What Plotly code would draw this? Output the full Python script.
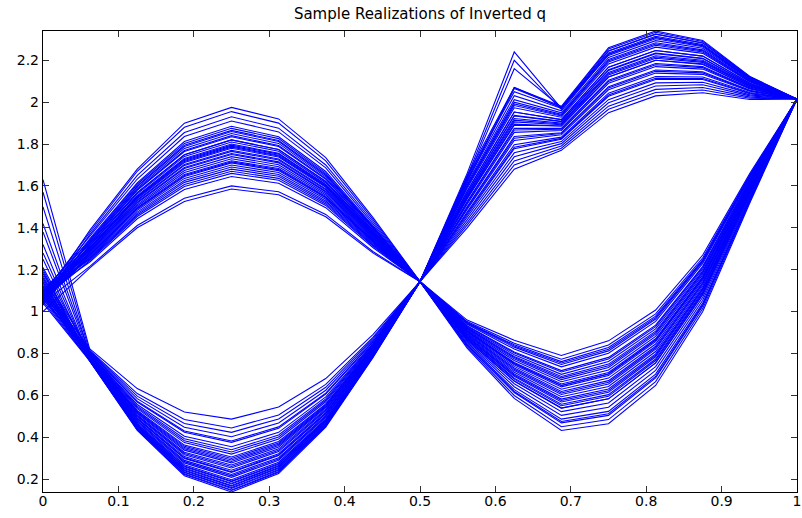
import plotly.graph_objects as go

# Grid of x positions (17 nodes on [0, 1])
x_nodes = [0, 0.0625, 0.125, 0.1875, 0.25, 0.3125, 0.375, 0.4375, 0.5,
           0.5625, 0.625, 0.6875, 0.75, 0.8125, 0.875, 0.9375, 1]

# Upper branch realizations: rising hump on [0, 0.5], higher hump on [0.5, 1]
upper_q = [
    [1.06, 1.39, 1.68, 1.90, 1.975, 1.92, 1.735, 1.45, 1.143, 1.54, 1.89, 1.886, 2.12, 2.20, 2.18, 2.073, 2.015],
    [1.08, 1.38, 1.67, 1.88, 1.955, 1.90, 1.72, 1.44, 1.143, 1.66, 2.24, 1.97, 2.245, 2.325, 2.283, 2.118, 2.015],
    [1.05, 1.37, 1.65, 1.855, 1.93, 1.876, 1.70, 1.43, 1.143, 1.475, 1.797, 1.833, 2.043, 2.123, 2.12, 2.046, 2.015],
    [1.09, 1.36, 1.633, 1.836, 1.91, 1.858, 1.686, 1.42, 1.143, 1.65, 2.07, 1.98, 2.26, 2.34, 2.295, 2.123, 2.015],
    [1.07, 1.35, 1.615, 1.812, 1.885, 1.835, 1.669, 1.41, 1.143, 1.575, 1.953, 1.917, 2.167, 2.247, 2.22, 2.09, 2.015],
    [1.04, 1.345, 1.608, 1.803, 1.875, 1.826, 1.661, 1.406, 1.143, 1.438, 1.739, 1.802, 1.997, 2.077, 2.083, 2.03, 2.015],
    [1.10, 1.34, 1.60, 1.794, 1.865, 1.817, 1.655, 1.402, 1.143, 1.613, 2.012, 1.949, 2.214, 2.294, 2.258, 2.107, 2.015],
    [1.06, 1.332, 1.59, 1.779, 1.85, 1.803, 1.643, 1.396, 1.143, 1.513, 1.856, 1.865, 2.09, 2.17, 2.158, 2.063, 2.015],
    [1.08, 1.328, 1.583, 1.769, 1.84, 1.793, 1.636, 1.391, 1.143, 1.645, 2.20, 1.965, 2.229, 2.309, 2.27, 2.11, 2.015],
    [1.03, 1.318, 1.568, 1.749, 1.82, 1.774, 1.621, 1.382, 1.143, 1.413, 1.70, 1.78, 1.966, 2.046, 2.058, 2.019, 2.015],
    [1.07, 1.309, 1.554, 1.731, 1.80, 1.756, 1.607, 1.374, 1.143, 1.555, 1.922, 1.90, 2.142, 2.222, 2.20, 2.081, 2.015],
    [1.09, 1.305, 1.547, 1.722, 1.79, 1.747, 1.60, 1.369, 1.143, 1.595, 1.984, 1.934, 2.192, 2.272, 2.24, 2.099, 2.015],
    [1.05, 1.30, 1.54, 1.712, 1.78, 1.738, 1.593, 1.365, 1.143, 1.488, 1.817, 1.844, 2.059, 2.139, 2.133, 2.052, 2.015],
    [1.08, 1.295, 1.533, 1.702, 1.77, 1.729, 1.586, 1.361, 1.143, 1.635, 2.16, 1.975, 2.254, 2.334, 2.29, 2.121, 2.015],
    [1.06, 1.288, 1.522, 1.688, 1.755, 1.715, 1.575, 1.354, 1.143, 1.525, 1.875, 1.875, 2.105, 2.185, 2.17, 2.068, 2.015],
    [1.04, 1.281, 1.511, 1.674, 1.74, 1.701, 1.564, 1.347, 1.143, 1.45, 1.758, 1.812, 2.012, 2.092, 2.095, 2.035, 2.015],
    [1.09, 1.272, 1.497, 1.655, 1.72, 1.683, 1.55, 1.339, 1.143, 1.62, 2.065, 1.975, 2.223, 2.303, 2.265, 2.11, 2.015],
    [1.07, 1.268, 1.49, 1.645, 1.71, 1.673, 1.543, 1.334, 1.143, 1.565, 1.937, 1.909, 2.155, 2.235, 2.21, 2.086, 2.015],
    [1.05, 1.263, 1.483, 1.636, 1.70, 1.664, 1.536, 1.33, 1.143, 1.50, 1.836, 1.854, 2.074, 2.154, 2.145, 2.057, 2.015],
    [1.10, 1.254, 1.468, 1.617, 1.68, 1.646, 1.521, 1.321, 1.143, 1.40, 1.68, 1.77, 1.95, 2.03, 2.045, 2.013, 2.015],
    [1.06, 1.245, 1.454, 1.597, 1.66, 1.627, 1.507, 1.313, 1.143, 1.588, 1.973, 1.928, 2.183, 2.263, 2.233, 2.096, 2.015],
    [1.08, 1.238, 1.443, 1.583, 1.645, 1.613, 1.496, 1.306, 1.143, 1.545, 1.906, 1.892, 2.13, 2.21, 2.19, 2.077, 2.015],
    [1.04, 1.217, 1.411, 1.541, 1.60, 1.572, 1.464, 1.287, 1.143, 1.468, 1.785, 1.827, 2.034, 2.114, 2.113, 2.043, 2.015],
    [1.00, 1.21, 1.40, 1.526, 1.585, 1.558, 1.453, 1.28, 1.143, 1.63, 2.07, 1.973, 2.235, 2.315, 2.275, 2.114, 2.015],
    [1.05, 1.337, 1.597, 1.788, 1.86, 1.812, 1.65, 1.40, 1.143, 1.55, 1.914, 1.896, 2.136, 2.216, 2.195, 2.079, 2.015],
    [1.09, 1.325, 1.579, 1.764, 1.835, 1.788, 1.632, 1.389, 1.143, 1.605, 2.00, 1.942, 2.204, 2.284, 2.25, 2.103, 2.015],
    [1.07, 1.314, 1.562, 1.741, 1.81, 1.766, 1.614, 1.378, 1.143, 1.64, 2.05, 1.97, 2.245, 2.325, 2.283, 2.118, 2.015],
    [1.04, 1.302, 1.544, 1.717, 1.785, 1.743, 1.597, 1.367, 1.143, 1.52, 1.867, 1.871, 2.099, 2.179, 2.165, 2.066, 2.015],
    [1.08, 1.293, 1.529, 1.698, 1.765, 1.724, 1.582, 1.358, 1.143, 1.575, 1.953, 1.917, 2.167, 2.247, 2.22, 2.09, 2.015],
    [1.06, 1.286, 1.518, 1.683, 1.75, 1.71, 1.571, 1.352, 1.143, 1.463, 1.778, 1.823, 2.028, 2.108, 2.108, 2.04, 2.015],
    [1.10, 1.277, 1.504, 1.664, 1.73, 1.692, 1.557, 1.343, 1.143, 1.625, 2.031, 1.959, 2.229, 2.309, 2.27, 2.11, 2.015],
    [1.05, 1.27, 1.493, 1.65, 1.715, 1.678, 1.546, 1.337, 1.143, 1.538, 1.895, 1.886, 2.12, 2.20, 2.183, 2.073, 2.015],
    [1.07, 1.258, 1.475, 1.626, 1.69, 1.655, 1.528, 1.326, 1.143, 1.60, 1.992, 1.938, 2.198, 2.278, 2.245, 2.101, 2.015],
    [1.09, 1.25, 1.461, 1.607, 1.67, 1.636, 1.514, 1.317, 1.143, 1.495, 1.828, 1.85, 2.068, 2.148, 2.14, 2.055, 2.015],
    [1.06, 1.318, 1.568, 1.749, 1.82, 1.774, 1.621, 1.382, 1.143, 1.563, 1.934, 1.907, 2.152, 2.232, 2.208, 2.085, 2.015],
    [1.08, 1.307, 1.55, 1.726, 1.795, 1.752, 1.604, 1.371, 1.143, 1.425, 1.719, 1.791, 1.981, 2.061, 2.07, 2.024, 2.015],
]

# Lower branch realizations: dip on [0, 0.5], second dip on [0.5, 1]
lower_q = [
    [1.12, 0.82, 0.632, 0.52, 0.486, 0.544, 0.68, 0.89, 1.143, 0.905, 0.752, 0.647, 0.702, 0.863, 1.162, 1.604, 2.015],
    [1.63, 0.813, 0.608, 0.484, 0.444, 0.506, 0.652, 0.877, 1.143, 0.845, 0.627, 0.486, 0.523, 0.701, 1.04, 1.541, 2.015],
    [1.08, 0.809, 0.596, 0.465, 0.423, 0.487, 0.638, 0.87, 1.143, 0.939, 0.821, 0.736, 0.801, 0.953, 1.23, 1.639, 2.015],
    [1.18, 0.806, 0.584, 0.447, 0.402, 0.468, 0.624, 0.864, 1.143, 0.879, 0.696, 0.575, 0.622, 0.791, 1.108, 1.576, 2.015],
    [1.57, 0.801, 0.568, 0.423, 0.375, 0.442, 0.606, 0.855, 1.143, 0.959, 0.863, 0.79, 0.86, 1.007, 1.27, 1.66, 2.015],
    [1.10, 0.797, 0.556, 0.404, 0.354, 0.423, 0.592, 0.848, 1.143, 0.832, 0.599, 0.45, 0.484, 0.665, 1.014, 1.527, 2.015],
    [1.21, 0.795, 0.548, 0.392, 0.34, 0.41, 0.583, 0.844, 1.143, 0.919, 0.78, 0.683, 0.741, 0.899, 1.189, 1.618, 2.015],
    [1.06, 0.791, 0.536, 0.374, 0.319, 0.391, 0.569, 0.837, 1.143, 0.865, 0.668, 0.539, 0.583, 0.755, 1.081, 1.562, 2.015],
    [1.50, 0.789, 0.528, 0.362, 0.305, 0.379, 0.559, 0.833, 1.143, 0.948, 0.841, 0.761, 0.828, 0.978, 1.248, 1.649, 2.015],
    [1.14, 0.786, 0.52, 0.35, 0.291, 0.366, 0.55, 0.828, 1.143, 0.892, 0.724, 0.611, 0.662, 0.827, 1.135, 1.59, 2.015],
    [1.09, 0.784, 0.512, 0.338, 0.277, 0.353, 0.541, 0.824, 1.143, 0.852, 0.641, 0.504, 0.543, 0.719, 1.054, 1.548, 2.015],
    [1.38, 0.782, 0.506, 0.328, 0.267, 0.344, 0.534, 0.821, 1.143, 0.93, 0.802, 0.711, 0.773, 0.928, 1.211, 1.629, 2.015],
    [1.16, 0.78, 0.498, 0.316, 0.253, 0.331, 0.525, 0.816, 1.143, 0.885, 0.71, 0.593, 0.642, 0.809, 1.122, 1.583, 2.015],
    [1.11, 0.778, 0.492, 0.307, 0.242, 0.321, 0.518, 0.813, 1.143, 0.825, 0.585, 0.432, 0.464, 0.647, 1.0, 1.52, 2.015],
    [1.32, 0.776, 0.486, 0.298, 0.232, 0.312, 0.511, 0.81, 1.143, 0.912, 0.766, 0.665, 0.721, 0.881, 1.176, 1.611, 2.015],
    [1.07, 0.774, 0.48, 0.289, 0.222, 0.302, 0.504, 0.806, 1.143, 0.872, 0.682, 0.557, 0.603, 0.773, 1.095, 1.569, 2.015],
    [1.13, 0.772, 0.472, 0.277, 0.208, 0.29, 0.494, 0.802, 1.143, 0.943, 0.83, 0.747, 0.812, 0.964, 1.238, 1.643, 2.015],
    [1.25, 0.77, 0.466, 0.268, 0.197, 0.28, 0.487, 0.799, 1.143, 0.899, 0.738, 0.629, 0.682, 0.845, 1.149, 1.597, 2.015],
    [1.10, 0.768, 0.46, 0.259, 0.187, 0.271, 0.48, 0.795, 1.143, 0.838, 0.613, 0.468, 0.504, 0.683, 1.027, 1.534, 2.015],
    [1.19, 0.767, 0.454, 0.249, 0.176, 0.261, 0.474, 0.792, 1.143, 0.921, 0.785, 0.69, 0.749, 0.906, 1.194, 1.621, 2.015],
    [1.05, 0.765, 0.448, 0.24, 0.166, 0.251, 0.467, 0.789, 1.143, 0.859, 0.655, 0.522, 0.563, 0.737, 1.068, 1.555, 2.015],
    [1.15, 0.763, 0.442, 0.231, 0.155, 0.242, 0.46, 0.786, 1.143, 0.952, 0.849, 0.772, 0.84, 0.989, 1.257, 1.653, 2.015],
    [1.12, 0.761, 0.436, 0.222, 0.145, 0.232, 0.453, 0.782, 1.143, 0.881, 0.702, 0.582, 0.63, 0.798, 1.113, 1.579, 2.015],
    [1.08, 0.76, 0.432, 0.216, 0.138, 0.226, 0.448, 0.78, 1.143, 0.908, 0.757, 0.654, 0.709, 0.87, 1.167, 1.607, 2.015],
    [1.11, 0.802, 0.572, 0.429, 0.382, 0.449, 0.61, 0.857, 1.143, 0.903, 0.746, 0.64, 0.694, 0.856, 1.157, 1.601, 2.015],
    [1.42, 0.793, 0.542, 0.383, 0.329, 0.401, 0.576, 0.841, 1.143, 0.932, 0.807, 0.718, 0.781, 0.935, 1.216, 1.632, 2.015],
    [1.07, 0.788, 0.524, 0.356, 0.298, 0.372, 0.555, 0.831, 1.143, 0.869, 0.677, 0.55, 0.595, 0.766, 1.089, 1.566, 2.015],
    [1.17, 0.781, 0.502, 0.322, 0.26, 0.337, 0.529, 0.819, 1.143, 0.916, 0.774, 0.675, 0.733, 0.892, 1.184, 1.615, 2.015],
    [1.28, 0.777, 0.488, 0.301, 0.235, 0.315, 0.513, 0.811, 1.143, 0.889, 0.718, 0.604, 0.654, 0.82, 1.13, 1.587, 2.015],
    [1.09, 0.773, 0.476, 0.283, 0.215, 0.296, 0.499, 0.804, 1.143, 0.946, 0.835, 0.754, 0.82, 0.971, 1.243, 1.646, 2.015],
    [1.14, 0.769, 0.462, 0.262, 0.19, 0.274, 0.483, 0.797, 1.143, 0.876, 0.691, 0.568, 0.614, 0.784, 1.103, 1.573, 2.015],
    [1.06, 0.767, 0.456, 0.252, 0.18, 0.264, 0.476, 0.793, 1.143, 0.925, 0.794, 0.70, 0.761, 0.917, 1.203, 1.625, 2.015],
    [1.20, 0.765, 0.45, 0.243, 0.169, 0.255, 0.469, 0.79, 1.143, 0.895, 0.73, 0.618, 0.67, 0.834, 1.14, 1.593, 2.015],
    [1.12, 0.764, 0.444, 0.234, 0.159, 0.245, 0.462, 0.787, 1.143, 0.865, 0.668, 0.539, 0.583, 0.755, 1.081, 1.562, 2.015],
    [1.04, 0.762, 0.438, 0.225, 0.148, 0.236, 0.455, 0.783, 1.143, 0.905, 0.752, 0.647, 0.702, 0.863, 1.162, 1.604, 2.015],
    [1.16, 0.785, 0.516, 0.344, 0.284, 0.36, 0.545, 0.826, 1.143, 0.841, 0.618, 0.475, 0.512, 0.69, 1.032, 1.537, 2.015],
]

x_ticks = [0, 0.1, 0.2, 0.3, 0.4, 0.5, 0.6, 0.7, 0.8, 0.9, 1]
x_tick_text = ["0", "0.1", "0.2", "0.3", "0.4", "0.5", "0.6", "0.7", "0.8", "0.9", "1"]
y_ticks = [0.2, 0.4, 0.6, 0.8, 1.0, 1.2, 1.4, 1.6, 1.8, 2.0, 2.2]
y_tick_text = ["0.2", "0.4", "0.6", "0.8", "1", "1.2", "1.4", "1.6", "1.8", "2", "2.2"]

title_text = "Sample Realizations of Inverted q"

fig = go.Figure()
for row in upper_q + lower_q:
    fig.add_trace(go.Scatter(
        x=x_nodes, y=row, mode="lines",
        line=dict(color="#0000ff", width=1.1),
        hoverinfo="skip", showlegend=False,
    ))

all_vals = [v for row in upper_q + lower_q for v in row]
y_lo, y_hi = min(all_vals), max(all_vals)

font_family = "DejaVu Sans, Liberation Sans, Arial, sans-serif"
axis_common = dict(
    showline=True, linecolor="#000000", linewidth=1.4, mirror="allticks",
    ticks="inside", ticklen=6, tickcolor="#333333", tickwidth=1,
    showgrid=False, zeroline=False, ticklabeloverflow="allow",
    tickfont=dict(family=font_family, size=14, color="#000000"),
)

fig.update_layout(
    width=802, height=518,
    margin=dict(l=43, r=1, t=31, b=26),
    paper_bgcolor="#ffffff", plot_bgcolor="#ffffff",
    title=dict(text=title_text, x=0.5, xref="paper", xanchor="center",
               y=1 - 14 / 518, yref="container", yanchor="middle",
               font=dict(family=font_family, size=15, color="#000000")),
    xaxis=dict(range=[0, 1], tickvals=x_ticks, ticktext=x_tick_text,
               ticklabelstandoff=-4, **axis_common),
    yaxis=dict(range=[y_lo, y_hi], tickvals=y_ticks, ticktext=y_tick_text,
               **axis_common),
    hovermode=False,
)

fig.write_html("out.html", config={"displayModeBar": False})
